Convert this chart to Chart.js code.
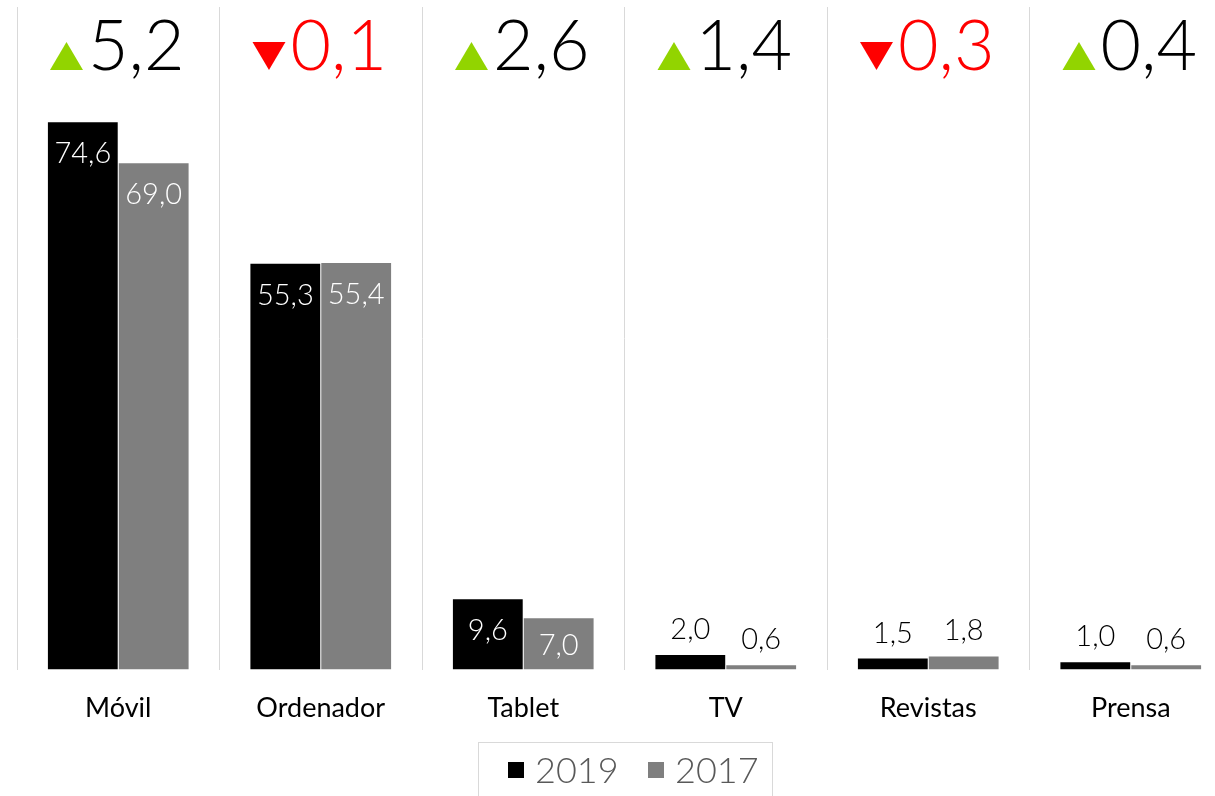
<!DOCTYPE html>
<html>
<head>
<meta charset="utf-8">
<script src="https://cdn.jsdelivr.net/npm/chart.js@4.4.1/dist/chart.umd.min.js"></script>
<style>
html,body{margin:0;padding:0;background:#fff;overflow:hidden;}
canvas{display:block;}
</style>
</head>
<body>
<canvas id="c" width="1235" height="796"></canvas>
<script>
const categories = ["Móvil", "Ordenador", "Tablet", "TV", "Revistas", "Prensa"];
const values2019 = [74.6, 55.3, 9.6, 2.0, 1.5, 1.0];
const values2017 = [69.0, 55.4, 7.0, 0.6, 1.8, 0.6];
const deltas = [5.2, -0.1, 2.6, 1.4, -0.3, 0.4];
const seriesNames = ["2019", "2017"];

const fmt = v => v.toFixed(1).replace('.', ',');
const NUMFONT = 'Lato, "DejaVu Sans", sans-serif';

const labelPlugin = {
  id: 'labels',
  afterDatasetsDraw(chart) {
    const ctx = chart.ctx;
    const base = chart.scales.y.getPixelForValue(0);
    ctx.save();
    ctx.font = '300 29px ' + NUMFONT;
    ctx.textAlign = 'center';
    ctx.textBaseline = 'alphabetic';
    chart.data.datasets.forEach((ds, di) => {
      chart.getDatasetMeta(di).data.forEach((bar, i) => {
        const v = ds.data[i];
        const t = fmt(v);
        if (v >= 5) {
          ctx.fillStyle = '#ffffff';
          const y = Math.min(bar.y + 41, (bar.y + base) / 2 + 11);
          ctx.fillText(t, bar.x, y);
        } else {
          ctx.fillStyle = '#000000';
          ctx.fillText(t, bar.x, bar.y - 16);
        }
      });
    });
    ctx.restore();
  },
  afterDraw(chart) {
    const ctx = chart.ctx;
    const xs = chart.scales.x;
    ctx.save();
    ctx.font = '300 70px ' + NUMFONT;
    ctx.textBaseline = 'alphabetic';
    ctx.textAlign = 'left';
    deltas.forEach((d, i) => {
      const cx = xs.getPixelForValue(i);
      const txt = fmt(Math.abs(d));
      const tw = ctx.measureText(txt).width;
      const triW = 33, triH = 28, gap = 5;
      const total = triW + gap + tw;
      const x0 = cx - total / 2 - 1;
      const baseY = 70;
      const up = d >= 0;
      ctx.fillStyle = up ? '#92d400' : '#ff0000';
      ctx.beginPath();
      if (up) {
        ctx.moveTo(x0, baseY);
        ctx.lineTo(x0 + triW, baseY);
        ctx.lineTo(x0 + triW / 2, baseY - triH);
      } else {
        ctx.moveTo(x0, baseY - triH);
        ctx.lineTo(x0 + triW, baseY - triH);
        ctx.lineTo(x0 + triW / 2, baseY);
      }
      ctx.closePath();
      ctx.fill();
      ctx.fillStyle = up ? '#000000' : '#ff0000';
      ctx.fillText(txt, x0 + triW + gap, baseY);
    });
    const colors = chart.data.datasets.map(ds => ds.backgroundColor);
    ctx.strokeStyle = '#d9d9d9';
    ctx.lineWidth = 1;
    ctx.strokeRect(478.5, 742.5, 294, 80);
    ctx.font = '300 36px ' + NUMFONT;
    let lx = 508;
    seriesNames.forEach((n, k) => {
      ctx.fillStyle = colors[k];
      ctx.fillRect(lx, 762, 16, 16);
      ctx.fillStyle = '#595959';
      ctx.fillText(n, lx + 27, 783);
      lx += 140;
    });
    ctx.restore();
  }
};

new Chart(document.getElementById('c'), {
  type: 'bar',
  data: {
    labels: categories,
    datasets: [
      { label: seriesNames[0], data: values2019, backgroundColor: '#000000', borderWidth: 0 },
      { label: seriesNames[1], data: values2017, backgroundColor: '#7f7f7f', borderWidth: 0 }
    ]
  },
  options: {
    responsive: false,
    animation: false,
    devicePixelRatio: 1,
    layout: { padding: { left: 17, right: 3, top: 7, bottom: 50 } },
    datasets: { bar: { categoryPercentage: 0.7, barPercentage: 0.985 } },
    plugins: { legend: { display: false }, tooltip: { enabled: false } },
    scales: {
      x: {
        grid: { display: true, color: '#d9d9d9', lineWidth: 1, tickLength: 0, offset: true },
        border: { display: false },
        ticks: { color: '#000000', font: { family: 'Lato, sans-serif', size: 27 }, padding: 22 }
      },
      y: {
        display: false,
        min: 0,
        max: 90.3
      }
    }
  },
  plugins: [labelPlugin]
});
</script>
</body>
</html>
